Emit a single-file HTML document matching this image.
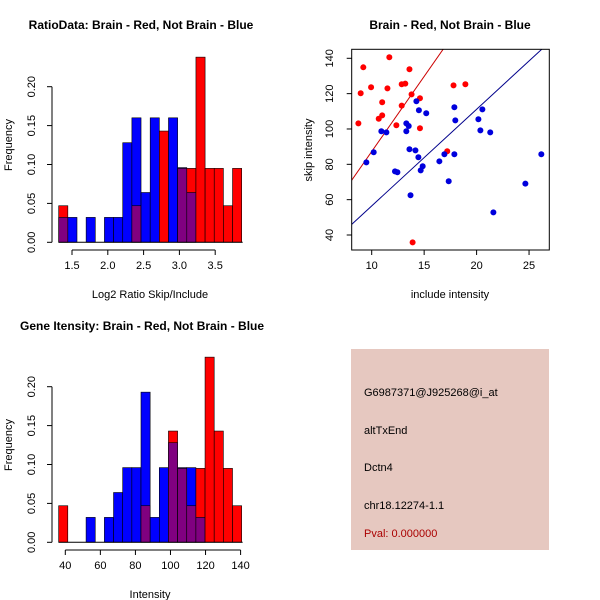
<!DOCTYPE html>
<html><head><meta charset="utf-8"><style>
body{margin:0;background:#fff}
svg{display:block;font-family:"Liberation Sans",sans-serif}
</style></head><body>
<svg id="s" width="600" height="600"></svg>
<script>
// Top-left histogram data
const ratioBlue=[0.032,0.032,0,0.032,0,0.032,0.032,0.128,0.16,0.064,0.16,0,0.16,0.096,0.064,0,0,0,0,0];
const ratioRed=[0.047,0,0,0,0,0,0,0,0.047,0,0,0.143,0,0.095,0.095,0.238,0.095,0.095,0.047,0.095];
const ratioXTicks=[1.5,2.0,2.5,3.0,3.5];
const freqTicks=[0,0.05,0.1,0.15,0.2];
// Bottom-left histogram data
const intBlue=[0,0,0,0.032,0,0.032,0.064,0.096,0.096,0.193,0.032,0.096,0.128,0.096,0.096,0.032,0,0,0,0];
const intRed=[0.047,0,0,0,0,0,0,0,0,0.047,0,0,0.143,0.095,0.047,0.095,0.238,0.143,0.095,0.047];
const intXTicks=[40,60,80,100,120,140];
// Scatter data
const redX=[8.73,8.95,9.2,9.94,11.68,11.0,11.0,10.67,11.5,12.35,12.86,13.2,12.86,13.6,13.8,14.6,14.6,13.9,17.2,17.8,18.93];
const redY=[103.2,120.2,134.9,123.6,140.6,115.1,107.7,105.8,123,102.1,125.3,125.7,113.2,133.8,119.6,117.4,100.4,35.8,87.4,124.7,125.3];
const blueX=[9.49,10.19,10.92,11.4,12.22,12.45,13.3,13.53,13.3,13.6,14.17,14.26,14.5,15.2,14.45,14.86,14.67,13.7,16.45,16.93,17.34,17.88,17.97,17.88,20.17,20.55,20.36,21.3,21.6,24.65,26.17];
const blueY=[81.1,86.8,98.7,98.1,76,75.5,103.2,101.7,98.7,88.5,87.9,115.7,110.6,108.9,84,78.9,76.6,62.5,81.7,85.7,70.4,112.3,104.9,85.7,105.5,111.1,99.2,98.1,52.8,69.1,85.7];
const scXTicks=[10,15,20,25];
const scYTicks=[40,60,80,100,120,140];
const redLine=[8.09,71,8.5];
const blueLine=[8.09,46,5.47];

const s=document.getElementById('s');
const NS='http://www.w3.org/2000/svg';
function el(t,a,txt){const e=document.createElementNS(NS,t);for(const k in a)e.setAttribute(k,a[k]);if(txt!==undefined)e.textContent=txt;s.appendChild(e);return e;}

function hist(blue,red,x0,bw,xs,ys,xt,dig,title,xlab,tx,ty,anchor,oy,pre){
  blue.forEach((b,i)=>{
    const r=red[i];const xa=xs(x0+i*bw),xb=xs(x0+(i+1)*bw);
    const mx=Math.max(b,r),mn=Math.min(b,r);
    if(mx>0){const e=el('rect',{x:xa,y:ys(mx),width:xb-xa,height:ys(0)-ys(mx),fill:b>=r?'#0000ff':'#ff0000',stroke:'#000','stroke-width':0.6});
      
      }
    if(mn>0){const e=el('rect',{x:xa,y:ys(mn),width:xb-xa,height:ys(0)-ys(mn),fill:'#800080',stroke:'#000','stroke-width':0.6});
      
      }
  });
  const base=ys(0);
  el('line',{x1:xs(x0),x2:xs(x0+blue.length*bw)+1,y1:base,y2:base,stroke:'#000'});
  const ay=oy+250;
  el('line',{x1:xs(xt[0]),x2:xs(xt[xt.length-1]),y1:ay,y2:ay,stroke:'#000'});
  xt.forEach(v=>{el('line',{x1:xs(v),x2:xs(v),y1:ay,y2:ay+5,stroke:'#000'});
    const t=el('text',{x:xs(v),y:ay+19,'font-size':11,'text-anchor':'middle'},dig?v.toFixed(dig):v);
    });
  const ax=52;
  el('line',{x1:ax,x2:ax,y1:ys(freqTicks[0]),y2:ys(freqTicks[freqTicks.length-1]),stroke:'#000'});
  freqTicks.forEach(v=>{el('line',{x1:ax,x2:ax-5,y1:ys(v),y2:ys(v),stroke:'#000'});
    const t=el('text',{x:35,y:ys(v),'font-size':11,'text-anchor':'middle',transform:`rotate(-90 35 ${ys(v)})`},v.toFixed(2));
    });
  const yl=el('text',{x:12,y:oy+145,'font-size':11,'text-anchor':'middle',transform:`rotate(-90 12 ${oy+145})`},'Frequency');
  
  const xl=el('text',{x:150,y:oy+298,'font-size':11,'text-anchor':'middle'},xlab);
  
  const ti=el('text',{x:tx,y:ty,'font-size':12,'font-weight':'bold','text-anchor':anchor},title);
  
}
const r1x=v=>72+(v-1.5)*71.6, r1y=v=>242.3-v*778;
hist(ratioBlue,ratioRed,1.314,0.1278,r1x,r1y,ratioXTicks,1,'RatioData: Brain - Red, Not Brain - Blue','Log2 Ratio Skip/Include',141,29,'middle',0,'ratio');
const i1x=v=>65.3+(v-40)*1.753, i1y=v=>542.3-v*778;
hist(intBlue,intRed,36.2,5.22,i1x,i1y,intXTicks,0,'Gene Itensity: Brain - Red, Not Brain - Blue','Intensity',20,330,'start',300,'intensity');

const sx=v=>371.7+(v-10)*10.49, sy=v=>58.3+(140-v)*1.767;
const L=351.7,R=549.3,T=49.3,B=250;
const cp=el('clipPath',{id:'cp'});const cr=document.createElementNS(NS,'rect');
cr.setAttribute('x',L);cr.setAttribute('y',T);cr.setAttribute('width',R-L);cr.setAttribute('height',B-T);cp.appendChild(cr);
[[redLine,'#cc0000','red'],[blueLine,'#00008b','blue']].forEach(([l,c,n])=>{
  const x1=8,x2=27;const e=el('line',{x1:sx(x1),y1:sy(l[1]+l[2]*(x1-l[0])),x2:sx(x2),y2:sy(l[1]+l[2]*(x2-l[0])),stroke:c,'clip-path':'url(#cp)'});
  });
redX.forEach((x,i)=>{const e=el('circle',{cx:sx(x),cy:sy(redY[i]),r:3,fill:'#ff0000'});
  });
blueX.forEach((x,i)=>{const e=el('circle',{cx:sx(x),cy:sy(blueY[i]),r:3,fill:'#0000dd'});
  });
el('rect',{x:L,y:T,width:R-L,height:B-T,fill:'none',stroke:'#000'});
scXTicks.forEach(v=>{el('line',{x1:sx(v),x2:sx(v),y1:B,y2:B+5,stroke:'#000'});
  const t=el('text',{x:sx(v),y:B+19,'font-size':11,'text-anchor':'middle'},v);
  });
scYTicks.forEach(v=>{el('line',{x1:L,x2:L-5,y1:sy(v),y2:sy(v),stroke:'#000'});
  const t=el('text',{x:333,y:sy(v),'font-size':11,'text-anchor':'middle',transform:`rotate(-90 333 ${sy(v)})`},v);
  });
let t=el('text',{x:450,y:298,'font-size':11,'text-anchor':'middle'},'include intensity');

t=el('text',{x:312,y:150,'font-size':11,'text-anchor':'middle',transform:'rotate(-90 312 150)'},'skip intensity');

t=el('text',{x:450,y:29,'font-size':12,'font-weight':'bold','text-anchor':'middle'},'Brain - Red, Not Brain - Blue');


const bx=el('rect',{x:351,y:349,width:198,height:201,fill:'#e6c8c0'});

[['G6987371@J925268@i_at',396,'probe-id'],['altTxEnd',434,'event-type'],['Dctn4',471,'gene-name'],['chr18.12274-1.1',509,'location']].forEach(([s2,y,n])=>{
  const e=el('text',{x:364,y:y,'font-size':11},s2);});
t=el('text',{x:364,y:537,'font-size':11,fill:'#aa0000'},'Pval: 0.000000');

</script>
</body></html>
